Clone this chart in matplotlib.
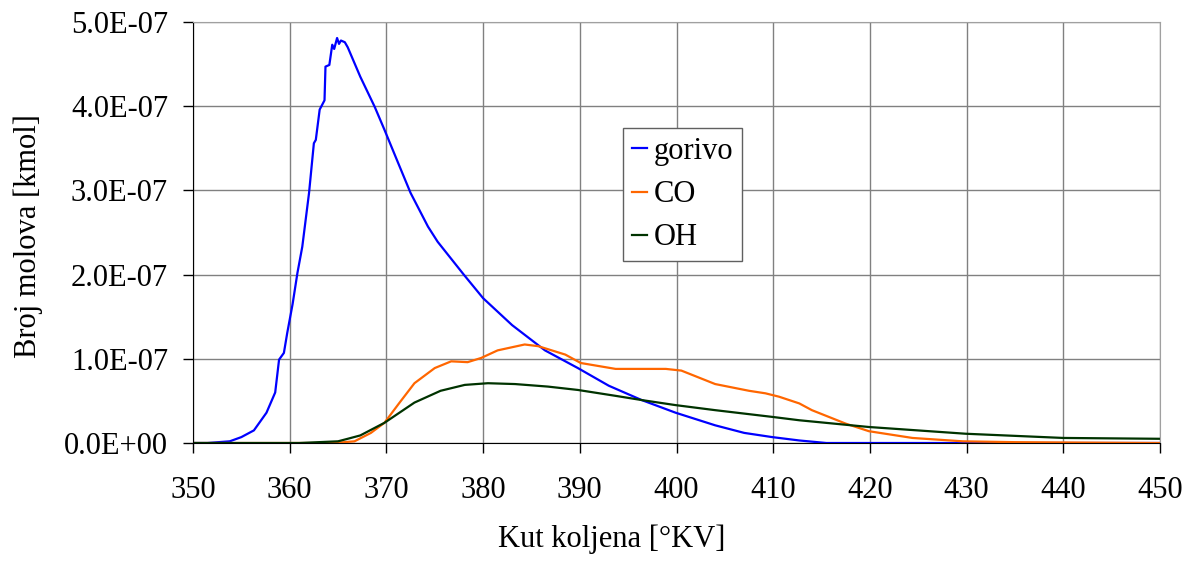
import matplotlib.pyplot as plt
from matplotlib.ticker import FuncFormatter, MultipleLocator

plt.rcParams['font.family'] = ['Liberation Serif', 'DejaVu Serif']

# values, y in units of 1e-7 kmol
gorivo_x = [350, 351.5, 353.8, 355.0, 356.3, 357.6, 358.5, 358.9, 359.4, 359.75, 360.3, 360.8,
            361.3, 362.0, 362.5, 362.7, 363.1, 363.6, 363.7, 364.1, 364.4, 364.6, 364.9, 365.1,
            365.3, 365.7, 366.0, 367.3, 368.8, 369.8, 371.2, 372.5, 374.3, 375.3, 378.0, 380.0,
            383.0, 386.4, 389.8, 393.0, 396.4, 399.9, 404.0, 407.0, 409.9, 412.7, 415.5, 450]
gorivo_y = [0.0, 0.0, 0.02, 0.07, 0.15, 0.36, 0.6, 0.99, 1.07, 1.31, 1.65, 2.02,
            2.33, 2.97, 3.56, 3.6, 3.96, 4.07, 4.47, 4.49, 4.73, 4.68, 4.81, 4.74,
            4.78, 4.76, 4.70, 4.35, 3.99, 3.72, 3.33, 2.97, 2.57, 2.39, 2.0, 1.72,
            1.40, 1.10, 0.89, 0.68, 0.51, 0.36, 0.21, 0.12, 0.07, 0.03, 0.0, 0.0]

co_x = [350, 364.6, 366.7, 368.4, 369.8, 371.3, 372.9, 375.0, 376.7, 378.4, 379.8, 381.5,
        384.3, 385.7, 388.5, 390.1, 393.7, 398.9, 400.5, 404.0, 407.5, 409.2, 410.6, 412.7,
        414.0, 417.5, 419.9, 424.4, 429.6, 435.0, 441.7, 450]
co_y = [0.0, 0.0, 0.02, 0.12, 0.24, 0.47, 0.71, 0.89, 0.97, 0.96, 1.01, 1.10,
        1.17, 1.15, 1.05, 0.95, 0.88, 0.88, 0.86, 0.70, 0.62, 0.59, 0.55, 0.47,
        0.39, 0.23, 0.14, 0.06, 0.02, 0.01, 0.005, 0.0]

oh_x = [350, 361.0, 365.0, 366.0, 367.3, 369.8, 372.9, 375.6, 378.1, 380.5, 383.3, 386.7,
        389.8, 393.7, 396.4, 399.9, 404.0, 409.9, 412.7, 419.9, 429.9, 440.0, 450]
oh_y = [0.0, 0.0, 0.02, 0.05, 0.09, 0.24, 0.48, 0.62, 0.69, 0.71, 0.70, 0.67,
        0.63, 0.56, 0.51, 0.45, 0.39, 0.31, 0.27, 0.19, 0.11, 0.06, 0.05]

scale = 1e-7
W, H = 1194, 563
fs = 22

fig = plt.figure(figsize=(W / 100, H / 100), dpi=100)
ax = fig.add_axes([193 / W, 1 - 443 / H, (1160 - 193) / W, (443 - 22) / H])

ax.plot(gorivo_x, [v * scale for v in gorivo_y], color='#0000ff', lw=1.6, label='gorivo')
ax.plot(co_x, [v * scale for v in co_y], color='#ff6600', lw=1.6, label='CO')
ax.plot(oh_x, [v * scale for v in oh_y], color='#003300', lw=1.6, label='OH')

ax.set_xlim(350, 450)
ax.set_ylim(0, 5e-7)
ax.xaxis.set_major_locator(MultipleLocator(10))
ax.yaxis.set_major_locator(MultipleLocator(1e-7))
ax.yaxis.set_major_formatter(FuncFormatter(lambda v, p: '{:.1E}'.format(v)))
ax.grid(True, color='#808080', lw=1.0)
ax.set_axisbelow(True)

for s in ['top', 'right']:
    ax.spines[s].set_color('#a0a0a0')
for s in ['left', 'bottom']:
    ax.spines[s].set_color('black')
ax.tick_params(direction='out', length=7, width=1, labelsize=fs)
ax.tick_params(axis='y', pad=11)
ax.tick_params(axis='x', pad=17)

fig.text(612 / W, 1 - 547 / H, 'Kut koljena [°KV]', fontsize=fs, ha='center', va='baseline')
fig.text(28 / W, 1 - 236 / H, 'Broj molova [kmol]', fontsize=fs, ha='center', va='center',
         rotation=90)

leg = ax.legend(loc='upper left', bbox_to_anchor=(623 / W, 1 - 128 / H),
                bbox_transform=fig.transFigure, borderaxespad=0, fontsize=fs,
                handlelength=0.5, handletextpad=0.2, fancybox=False, framealpha=1,
                edgecolor='#606060', borderpad=0.3, labelspacing=0.46)
leg.get_frame().set_linewidth(1.0)

fig.savefig('out.png', dpi=100)
